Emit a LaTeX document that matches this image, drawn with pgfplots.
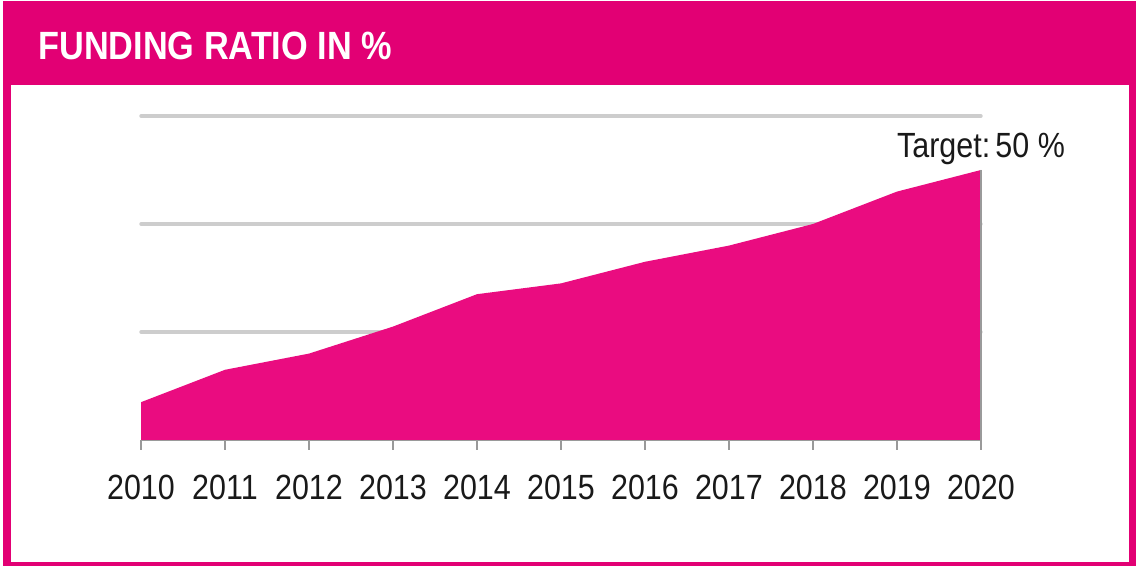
\documentclass[border=0pt]{standalone}
\usepackage{fontspec}
\setmainfont{Liberation Sans}[FakeStretch=0.87]
\usepackage{pgfplots}
\pgfplotsset{compat=1.18}
\definecolor{tmag}{HTML}{E20074}
\definecolor{amag}{HTML}{EA0C80}
\definecolor{gridgray}{HTML}{CDCDCD}
\definecolor{axgray}{HTML}{9A9A9A}
\begin{document}
\begin{tikzpicture}
\fill[white] (0,0) rectangle (568.5pt,283pt);
\fill[tmag] (1.5pt,0pt) rectangle (568pt,282.5pt);
\fill[white] (5.5pt,2pt) rectangle (564.5pt,240.5pt);
\node[anchor=base west, inner sep=0pt, text=white, font=\fontsize{19.7}{20}\selectfont\bfseries] at (19pt,253pt) {FUNDING RATIO IN \%};
\begin{axis}[
 at={(70.5pt,63pt)}, anchor=south west, scale only axis,
 x=42pt, y=2.7pt,
 xmin=2010, xmax=2020, ymin=0, ymax=60,
 clip=false,
 axis x line*=bottom, axis y line*=left,
 y axis line style={draw=none},
 x axis line style={axgray, line width=0.8pt, -},
 xtick={2010,...,2020},
 ytick={20,40,60}, yticklabels={},
 ytick style={draw=none},
 xtick style={axgray, line width=0.8pt},
 tick align=outside,
 major tick length=5pt,
 ymajorgrids,
 major grid style={gridgray, line width=1.7pt, line cap=round},
 /pgf/number format/1000 sep={},
 /pgf/number format/assume math mode=true,
 xticklabel style={font=\fontsize{17.5}{18}\selectfont, text=black!90, inner sep=0pt, yshift=-12.5pt},
]
\addplot[fill=amag, draw=none] coordinates {
(2010,7) (2011,13) (2012,16) (2013,21) (2014,27) (2015,29) (2016,33) (2017,36) (2018,40) (2019,46) (2020,50)
} \closedcycle;
\addplot[axgray, line width=0.6pt] coordinates {(2020,0) (2020,50)};
\node[anchor=base, inner sep=0pt, font=\fontsize{17.5}{18}\selectfont, text=black!90, yshift=6pt] at (axis cs:2020,50) {Target:\kern0.15em 50 \%};
\end{axis}
\end{tikzpicture}
\end{document}
